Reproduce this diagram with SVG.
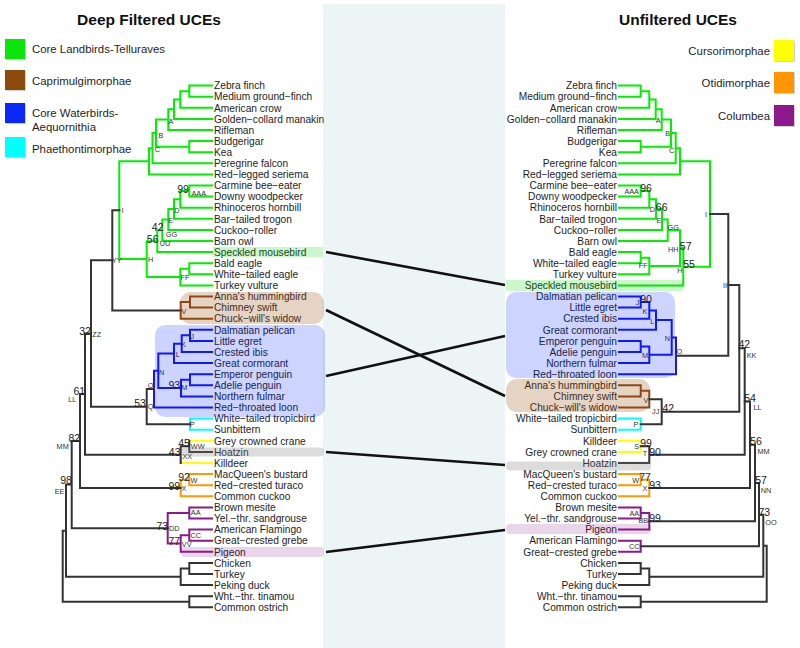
<svg xmlns="http://www.w3.org/2000/svg" width="800" height="648" viewBox="0 0 800 648">
<style>
text{font-family:"Liberation Sans",Arial,Helvetica,sans-serif;fill:#1e1e1e}
.tt{font-size:15.5px;font-weight:bold;text-anchor:middle;fill:#111}
.lg{font-size:11.4px}
.tx{font-size:10.2px}
.r{text-anchor:end}
.nl{font-size:7.3px;text-anchor:middle;fill:#333}
.bs{font-size:10.5px;text-anchor:middle;fill:#222}
.e{fill:none;stroke-width:2;stroke-linecap:square}
.k{stroke:#333}.g{stroke:#00F000}.b{stroke:#1414FF}.br{stroke:#8C4614}.c{stroke:#00FFFF}.y{stroke:#FFFF00}.o{stroke:#FF9900}.p{stroke:#8C198C}
.conn{stroke:#111;stroke-width:2.6;fill:none}
.sh{fill:#000;opacity:.18}
</style>
<rect x="0" y="0" width="800" height="648" fill="#fff"/>
<rect x="323" y="4" width="182" height="644" fill="#EDF4F6"/>

<g id="titles">
<text class="tt" x="149" y="25">Deep Filtered UCEs</text>
<text class="tt" x="678" y="25">Unfiltered UCEs</text>
</g>

<g id="legend-left">
<rect class="sh" x="6" y="40" width="20" height="20"/><rect x="5" y="39" width="20" height="20" fill="#0AE60A"/>
<text class="lg" x="32" y="53">Core Landbirds-Telluraves</text>
<rect class="sh" x="6" y="71" width="20" height="20"/><rect x="5" y="70" width="20" height="20" fill="#8C4B0A"/>
<text class="lg" x="32" y="85">Caprimulgimorphae</text>
<rect class="sh" x="6" y="104" width="20" height="20"/><rect x="5" y="103" width="20" height="20" fill="#0A28FA"/>
<text class="lg" x="32" y="117">Core Waterbirds-</text>
<text class="lg" x="32" y="131">Aequornithia</text>
<rect class="sh" x="6" y="138" width="20" height="20"/><rect x="5" y="137" width="20" height="20" fill="#00FFFF"/>
<text class="lg" x="32" y="153">Phaethontimorphae</text>
</g>
<g id="legend-right">
<rect class="sh" x="775" y="41" width="20" height="21"/><rect x="774" y="40" width="20" height="21" fill="#FFFF00"/>
<text class="lg r" x="770" y="55">Cursorimorphae</text>
<rect class="sh" x="775" y="73" width="20" height="21"/><rect x="774" y="72" width="20" height="21" fill="#FF9600"/>
<text class="lg r" x="770" y="87">Otidimorphae</text>
<rect class="sh" x="775" y="106" width="20" height="21"/><rect x="774" y="105" width="20" height="21" fill="#8C198C"/>
<text class="lg r" x="770" y="120">Columbea</text>
</g>

<g id="left-tree">
<path class="e g" d="M212 85.6H189.3V96.7H212M189.3 91.15H180.3V107.8H212M180.3 99.5H174V118.9H212M174 109.2H168.3V130H212M212 141.1H189.3V152.2H212M168.3 119.55H156V146.65H189.3M156 133.1H152.5V163.3H212M152.5 148.2H149V174.4H212"/>
<path class="e g" d="M212 185.5H189.3V196.6H212M189.3 191.05H180.3V207.7H212M180.3 199.35H174V218.8H212M174 209.05H168.3V229.9H212M168.3 219.48H162.3V241H212M162.3 230.24H157.3V252.1H212M212 263.2H189.3V274.3H212M189.3 268.75H180.3V285.4H212M157.3 241.17H146.7V277.08H180.3M149 161.3H119.3V259.12H146.7"/>
<path class="e br" d="M212 296.5H190V307.6H212M190 302.05H180.7V318.7H212"/>
<path class="e k" d="M119.3 210.21H112.3V310.38H180.7"/>
<path class="e b" d="M212 329.8H190V340.9H212M190 335.35H181.7V352H212M181.7 343.68H174V363.1H212M212 374.2H190V385.3H212M190 379.75H181V396.4H212M174 353.39H158.3V388.08H181M158.3 370.73H154V407.5H212"/>
<path class="e c" d="M212 418.6H190V429.7H212"/>
<path class="e k" d="M154 389.12H146.7V424.15H190M112.3 260.29H91V406.63H146.7"/>
<path class="e y" d="M212 440.8H189.3M212 463H180.7"/>
<path class="e k" d="M189.3 440.8V451.9H212M189.3 446.35H180.7V463M91 333.46H85V454.68H180.7"/>
<path class="e o" d="M212 474.1H189.3V485.2H212M189.3 479.65H180.7V496.3H212"/>
<path class="e k" d="M85 394.07H80V487.98H180.7"/>
<path class="e p" d="M212 507.4H189.3V518.5H212M212 529.6H189.3V540.7H212M189.3 535.15H180.7V551.8H212M189.3 512.95H167.7V543.48H180.7"/>
<path class="e k" d="M80 441.02H71.7V528.21H167.7M212 562.9H189.3V574H212M189.3 568.45H180.7V585.1H212M71.7 484.6H66V576.78H180.7M212 596.2H189.3V607.3H212M66 530.69H62.7V601.75H189.3"/>
</g>

<g id="right-tree">
<path class="e g" d="M619 85.6H640.7V96.7H619M640.7 91.15H649.3V107.8H619M649.3 99.5H655.7V118.9H619M655.7 109.2H661.7V130H619M619 141.1H640.7V152.2H619M661.7 119.55H671V146.65H640.7M671 133.1H675.7V163.3H619M675.7 148.2H680V174.4H619"/>
<path class="e g" d="M619 185.5H640.7V196.6H619M640.7 191.05H649.3V207.7H619M649.3 199.35H656V218.8H619M656 209.05H662V229.9H619M662 219.48H667.7V241H619M619 252.1H640.7V263.2H619M640.7 257.65H649.3V274.3H619M667.7 230.24H680V265.98H649.3M680 248.11H683.3V285.4H619M680 161.3H710V266.76H683.3"/>
<path class="e b" d="M619 296.5H640.7V307.6H619M640.7 302.05H649.3V318.7H619M649.3 310.38H656V329.8H619M619 340.9H640.7V352H619M640.7 346.45H649.3V363.1H619M656 320.09H671.7V354.78H649.3M671.7 337.43H676V374.2H619"/>
<path class="e k" d="M710 214.03H728.3V355.82H676"/>
<path class="e br" d="M619 385.3H640.7V396.4H619M640.7 390.85H649.3V407.5H619"/>
<path class="e c" d="M619 418.6H640.7V429.7H619"/>
<path class="e k" d="M649.3 399.18H661.7V424.15H640.7M728.3 284.93H739.3V411.66H661.7"/>
<path class="e y" d="M619 440.8H640.7V451.9H619"/>
<path class="e k" d="M640.7 446.35H649.3V463H619M739.3 348.3H744.7V454.68H649.3"/>
<path class="e o" d="M619 474.1H640.7V485.2H619M640.7 479.65H649.3V496.3H619"/>
<path class="e k" d="M744.7 401.49H750V487.98H649.3"/>
<path class="e p" d="M619 507.4H640.7V518.5H619M640.7 512.95H649.3V529.6H619M619 540.7H640.7V551.8H619"/>
<path class="e k" d="M750 444.74H755V521.28H649.3M755 483.01H759V546.25H640.7M619 562.9H640.7V574H619M640.7 568.45H649.3V585.1H619M759 514.63H763.3V576.78H649.3M619 596.2H640.7V607.3H619M763.3 545.7H766.7V601.75H640.7"/>
</g>

<g id="left-tips" class="tx">
<text x="214" y="89.3">Zebra finch</text>
<text x="214" y="100.4">Medium ground−finch</text>
<text x="214" y="111.5">American crow</text>
<text x="214" y="122.6">Golden−collard manakin</text>
<text x="214" y="133.7">Rifleman</text>
<text x="214" y="144.8">Budgerigar</text>
<text x="214" y="155.9">Kea</text>
<text x="214" y="167">Peregrine falcon</text>
<text x="214" y="178.1">Red−legged seriema</text>
<text x="214" y="189.2">Carmine bee−eater</text>
<text x="214" y="200.3">Downy woodpecker</text>
<text x="214" y="211.4">Rhinoceros hornbill</text>
<text x="214" y="222.5">Bar−tailed trogon</text>
<text x="214" y="233.6">Cuckoo−roller</text>
<text x="214" y="244.7">Barn owl</text>
<text x="214" y="255.8">Speckled mousebird</text>
<text x="214" y="266.9">Bald eagle</text>
<text x="214" y="278">White−tailed eagle</text>
<text x="214" y="289.1">Turkey vulture</text>
<text x="214" y="300.2">Anna's hummingbird</text>
<text x="214" y="311.3">Chimney swift</text>
<text x="214" y="322.4">Chuck−will's widow</text>
<text x="214" y="333.5">Dalmatian pelican</text>
<text x="214" y="344.6">Little egret</text>
<text x="214" y="355.7">Crested ibis</text>
<text x="214" y="366.8">Great cormorant</text>
<text x="214" y="377.9">Emperor penguin</text>
<text x="214" y="389">Adelie penguin</text>
<text x="214" y="400.1">Northern fulmar</text>
<text x="214" y="411.2">Red−throated loon</text>
<text x="214" y="422.3">White−tailed tropicbird</text>
<text x="214" y="433.4">Sunbittern</text>
<text x="214" y="444.5">Grey crowned crane</text>
<text x="214" y="455.6">Hoatzin</text>
<text x="214" y="466.7">Killdeer</text>
<text x="214" y="477.8">MacQueen's bustard</text>
<text x="214" y="488.9">Red−crested turaco</text>
<text x="214" y="500">Common cuckoo</text>
<text x="214" y="511.1">Brown mesite</text>
<text x="214" y="522.2">Yel.−thr. sandgrouse</text>
<text x="214" y="533.3">American Flamingo</text>
<text x="214" y="544.4">Great−crested grebe</text>
<text x="214" y="555.5">Pigeon</text>
<text x="214" y="566.6">Chicken</text>
<text x="214" y="577.7">Turkey</text>
<text x="214" y="588.8">Peking duck</text>
<text x="214" y="599.9">Wht.−thr. tinamou</text>
<text x="214" y="611">Common ostrich</text>
</g>

<g id="right-tips" class="tx r">
<text x="617" y="89.3">Zebra finch</text>
<text x="617" y="100.4">Medium ground−finch</text>
<text x="617" y="111.5">American crow</text>
<text x="617" y="122.6">Golden−collard manakin</text>
<text x="617" y="133.7">Rifleman</text>
<text x="617" y="144.8">Budgerigar</text>
<text x="617" y="155.9">Kea</text>
<text x="617" y="167">Peregrine falcon</text>
<text x="617" y="178.1">Red−legged seriema</text>
<text x="617" y="189.2">Carmine bee−eater</text>
<text x="617" y="200.3">Downy woodpecker</text>
<text x="617" y="211.4">Rhinoceros hornbill</text>
<text x="617" y="222.5">Bar−tailed trogon</text>
<text x="617" y="233.6">Cuckoo−roller</text>
<text x="617" y="244.7">Barn owl</text>
<text x="617" y="255.8">Bald eagle</text>
<text x="617" y="266.9">White−tailed eagle</text>
<text x="617" y="278">Turkey vulture</text>
<text x="617" y="289.1">Speckled mousebird</text>
<text x="617" y="300.2">Dalmatian pelican</text>
<text x="617" y="311.3">Little egret</text>
<text x="617" y="322.4">Crested ibis</text>
<text x="617" y="333.5">Great cormorant</text>
<text x="617" y="344.6">Emperor penguin</text>
<text x="617" y="355.7">Adelie penguin</text>
<text x="617" y="366.8">Northern fulmar</text>
<text x="617" y="377.9">Red−throated loon</text>
<text x="617" y="389">Anna's hummingbird</text>
<text x="617" y="400.1">Chimney swift</text>
<text x="617" y="411.2">Chuck−will's widow</text>
<text x="617" y="422.3">White−tailed tropicbird</text>
<text x="617" y="433.4">Sunbittern</text>
<text x="617" y="444.5">Killdeer</text>
<text x="617" y="455.6">Grey crowned crane</text>
<text x="617" y="466.7">Hoatzin</text>
<text x="617" y="477.8">MacQueen's bustard</text>
<text x="617" y="488.9">Red−crested turaco</text>
<text x="617" y="500">Common cuckoo</text>
<text x="617" y="511.1">Brown mesite</text>
<text x="617" y="522.2">Yel.−thr. sandgrouse</text>
<text x="617" y="533.3">Pigeon</text>
<text x="617" y="544.4">American Flamingo</text>
<text x="617" y="555.5">Great−crested grebe</text>
<text x="617" y="566.6">Chicken</text>
<text x="617" y="577.7">Turkey</text>
<text x="617" y="588.8">Peking duck</text>
<text x="617" y="599.9">Wht.−thr. tinamou</text>
<text x="617" y="611">Common ostrich</text>
</g>

<g id="left-node-labels">
<text class="nl" x="171" y="123.6">A</text>
<text class="nl" x="161" y="137.6">B</text>
<text class="nl" x="157.5" y="151.6">C</text>
<text class="nl" x="122.5" y="213.1">I</text>
<text class="nl" x="116.7" y="263.3">YY</text>
<text class="bs" x="183" y="192.8">99</text>
<text class="nl" x="198.8" y="195.9">AAA</text>
<text class="nl" x="177" y="212.6">D</text>
<text class="nl" x="170.7" y="222.6">E</text>
<text class="bs" x="157.7" y="230.8">42</text>
<text class="nl" x="171.5" y="236.9">GG</text>
<text class="bs" x="152.7" y="242.8">56</text>
<text class="nl" x="165" y="245.9">UU</text>
<text class="nl" x="150.7" y="261.9">H</text>
<text class="nl" x="185" y="279.9">FF</text>
<text class="nl" x="184" y="313.6">V</text>
<text class="nl" x="192.3" y="338.6">J</text>
<text class="nl" x="183.7" y="346.9">K</text>
<text class="nl" x="177.7" y="356.6">L</text>
<text class="nl" x="161.7" y="374.9">N</text>
<text class="bs" x="174.3" y="388.8">93</text>
<text class="nl" x="184.3" y="389.9">M</text>
<text class="nl" x="150.7" y="387.6">O</text>
<text class="bs" x="140" y="407.1">53</text>
<text class="nl" x="150.7" y="409.3">Q</text>
<text class="nl" x="192.3" y="426.6">P</text>
<text class="bs" x="85" y="334.8">32</text>
<text class="nl" x="96.7" y="336.9">ZZ</text>
<text class="bs" x="79.3" y="394.8">61</text>
<text class="nl" x="72.3" y="401.6">LL</text>
<text class="bs" x="184" y="447.1">45</text>
<text class="nl" x="197.7" y="449.3">WW</text>
<text class="bs" x="174.7" y="455.5">43</text>
<text class="nl" x="187.3" y="458.6">XX</text>
<text class="bs" x="74.3" y="441.5">82</text>
<text class="nl" x="62.7" y="448.6">MM</text>
<text class="bs" x="184" y="480.5">92</text>
<text class="nl" x="194" y="482.6">W</text>
<text class="bs" x="174.3" y="489.8">99</text>
<text class="nl" x="184" y="490.9">X</text>
<text class="bs" x="66" y="484.3">98</text>
<text class="nl" x="59.5" y="493.6">EE</text>
<text class="nl" x="195.7" y="515.3">AA</text>
<text class="bs" x="162.3" y="529.5">73</text>
<text class="nl" x="174.3" y="530.9">DD</text>
<text class="nl" x="195.7" y="537.6">CC</text>
<text class="bs" x="174.3" y="544.5">77</text>
<text class="nl" x="186.7" y="546.9">VV</text>
</g>

<g id="right-node-labels">
<text class="nl" x="658.3" y="122.6">A</text>
<text class="nl" x="667.7" y="135.9">B</text>
<text class="nl" x="671.7" y="152.6">C</text>
<text class="nl" x="706" y="216.6">I</text>
<text class="nl" x="725" y="288.3">II</text>
<text class="nl" x="631.7" y="194.3">AAA</text>
<text class="bs" x="646" y="192.1">96</text>
<text class="nl" x="652.3" y="211.9">D</text>
<text class="bs" x="661.7" y="210.5">66</text>
<text class="nl" x="659" y="223.3">E</text>
<text class="nl" x="673.3" y="230.3">GG</text>
<text class="nl" x="673.3" y="251.6">HH</text>
<text class="bs" x="685.7" y="249.5">57</text>
<text class="nl" x="643.3" y="268.3">FF</text>
<text class="nl" x="680" y="272.6">H</text>
<text class="bs" x="689" y="268.1">55</text>
<text class="nl" x="637.7" y="304.9">J</text>
<text class="bs" x="646" y="303.1">90</text>
<text class="nl" x="645" y="314.3">K</text>
<text class="nl" x="652.3" y="324.3">L</text>
<text class="nl" x="667.3" y="340.9">N</text>
<text class="nl" x="645" y="357.6">M</text>
<text class="nl" x="679.3" y="354.3">O</text>
<text class="nl" x="646" y="403.3">V</text>
<text class="nl" x="655.7" y="414.3">JJ</text>
<text class="bs" x="668.3" y="412.1">42</text>
<text class="nl" x="636" y="426.6">P</text>
<text class="bs" x="744.3" y="348.3">42</text>
<text class="nl" x="751.5" y="357.5">KK</text>
<text class="bs" x="750" y="401.6">54</text>
<text class="nl" x="757.5" y="410.2">LL</text>
<text class="bs" x="646" y="447.1">99</text>
<text class="nl" x="636.7" y="448.6">S</text>
<text class="nl" x="645" y="455.9">T</text>
<text class="bs" x="655" y="455.5">90</text>
<text class="bs" x="756" y="445">56</text>
<text class="nl" x="763.5" y="453.5">MM</text>
<text class="nl" x="635.7" y="482.6">W</text>
<text class="bs" x="645" y="480.5">77</text>
<text class="nl" x="645" y="490.9">X</text>
<text class="bs" x="655" y="488.8">93</text>
<text class="bs" x="761" y="484">57</text>
<text class="nl" x="766" y="492.5">NN</text>
<text class="nl" x="634.3" y="515.9">AA</text>
<text class="nl" x="643.3" y="523.3">BB</text>
<text class="bs" x="655" y="522.1">99</text>
<text class="bs" x="764.3" y="516">73</text>
<text class="nl" x="771" y="524.5">OO</text>
<text class="nl" x="634.3" y="549.3">CC</text>
</g>

<g id="highlights">
<rect x="213" y="247" width="110" height="10" fill="#00D200" opacity="0.2"/>
<rect x="180" y="292" width="144" height="32" rx="11" fill="#964F14" opacity="0.25"/>
<rect x="155" y="325" width="170" height="92" rx="10" fill="#0028FF" opacity="0.2"/>
<rect x="181" y="447.5" width="143" height="9" rx="4" fill="#808080" opacity="0.28"/>
<rect x="181" y="547" width="143" height="10" rx="4" fill="#8C198C" opacity="0.18"/>
<rect x="506" y="280" width="177" height="11" fill="#00D200" opacity="0.2"/>
<rect x="506" y="292" width="169" height="86" rx="10" fill="#0028FF" opacity="0.2"/>
<rect x="506" y="379" width="144" height="33" rx="11" fill="#964F14" opacity="0.25"/>
<rect x="506" y="461.5" width="145" height="9" rx="4" fill="#808080" opacity="0.28"/>
<rect x="506" y="524" width="145" height="10" rx="4" fill="#8C198C" opacity="0.18"/>
</g>

<g id="connectors">
<line class="conn" x1="326" y1="252" x2="505" y2="285"/>
<line class="conn" x1="326" y1="310" x2="505" y2="396"/>
<line class="conn" x1="326" y1="376" x2="505" y2="336"/>
<line class="conn" x1="326" y1="452" x2="505" y2="465"/>
<line class="conn" x1="326" y1="552" x2="505" y2="530"/>
</g>
</svg>
